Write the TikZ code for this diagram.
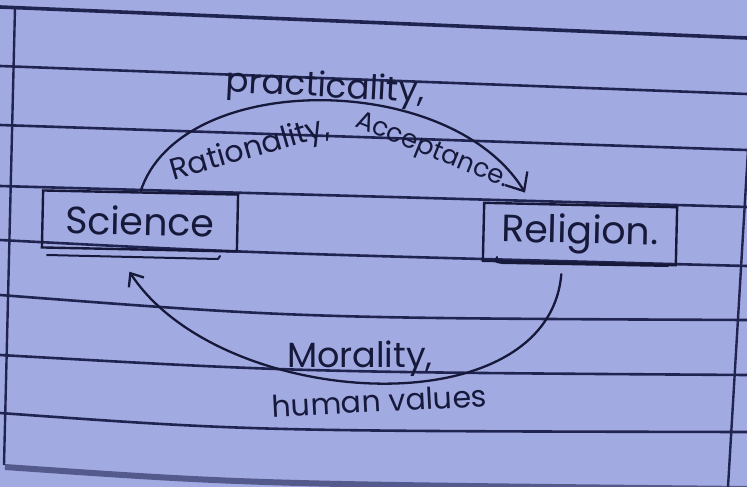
\documentclass[tikz,border=0pt]{standalone}
\usepackage{fontspec}
\newfontfamily\hand{Poppins}
\usetikzlibrary{arrows.meta,calc}
\definecolor{paper}{RGB}{162,170,226}
\definecolor{rule}{RGB}{32,36,80}
\definecolor{ink}{RGB}{22,25,58}
\definecolor{edge}{RGB}{84,90,140}

\begin{document}
\begin{tikzpicture}[x=1pt,y=-1pt,
  ruled/.style={draw=rule, line width=2.6pt},
  inkline/.style={draw=ink, line width=2.3pt, line cap=round, line join=round},
  wordbox/.style={draw=ink, line width=2.4pt, inner sep=0pt, text=ink,
    font=\hand\fontsize{38}{40}\selectfont},
  flow/.style={inkline, -{Straight Barb[length=15pt,width=26pt]}},
  note/.style={font=\hand\fontsize{30}{32}\selectfont, text=ink, inner sep=0pt}
]
% sheet of lined paper
\fill[paper] (0,0) rectangle (747,487);
\useasboundingbox (0,0) rectangle (747,487);

% ruled lines
\draw[ruled, line width=3.6pt] (0,7) -- (747,38);
\draw[ruled] (0,66) -- (747,94);
\draw[ruled] (0,125) -- (747,150);
\draw[ruled] (0,186) -- (747,207);
\draw[ruled] (0,240) .. controls (250,253) .. (747,266);
\draw[ruled] (0,295) .. controls (300,318) .. (747,320);
\draw[ruled] (0,355) .. controls (300,372) .. (747,375);
\draw[ruled] (0,413) .. controls (250,431) .. (747,432);
\draw[draw=edge, line width=6pt] (5,467) .. controls (250,484) .. (747,489);

% margin lines
\draw[ruled, line width=2.4pt] (15,8) -- (4,465);
\draw[ruled, line width=2.4pt] (748,150) -- (728,487);

% the two boxes
\node[wordbox, minimum width=195pt, minimum height=57pt, rotate=-1.2] (sci) at (140,221) {Science};
\node[wordbox, minimum width=193pt, minimum height=58pt, rotate=-1.3] (rel) at (580,234) {Religion.};

% underlines below the boxes
\draw[inkline, line width=2pt] (47,255) -- (218,259) -- (220,256);
\draw[inkline, line width=2pt] (497,257) .. controls (495,262) .. (503,263) -- (668,266);

% connectors
\draw[flow] (sci.north) .. controls (180,70) and (450,70) .. ($(rel.north west)+(42,-9)$);
\draw[inkline, -{Straight Barb[length=11pt,width=18pt]}]
  ($(rel.south)+(-18,10)$) .. controls (548,430) and (220,410) .. ($(sci.south)+(-10,21)$);

% labels
\node[note, anchor=base, rotate=-3, font=\hand\fontsize{34}{36}\selectfont] (prac) at (325,97) {practicality,};
\node[note, anchor=base, rotate=16, font=\hand\fontsize{30}{32}\selectfont] (rat) at (252,158) {Rationality,};
\node[note, anchor=base, rotate=-22, font=\hand\fontsize{26}{28}\selectfont] (acc) at (430,157) {Acceptance.};
\node[note, anchor=base, font=\hand\fontsize{35}{37}\selectfont] (mor) at (360,367) {Morality,};
\node[note, anchor=base, rotate=3] (hum) at (380,412) {human values};
\end{tikzpicture}
\end{document}
